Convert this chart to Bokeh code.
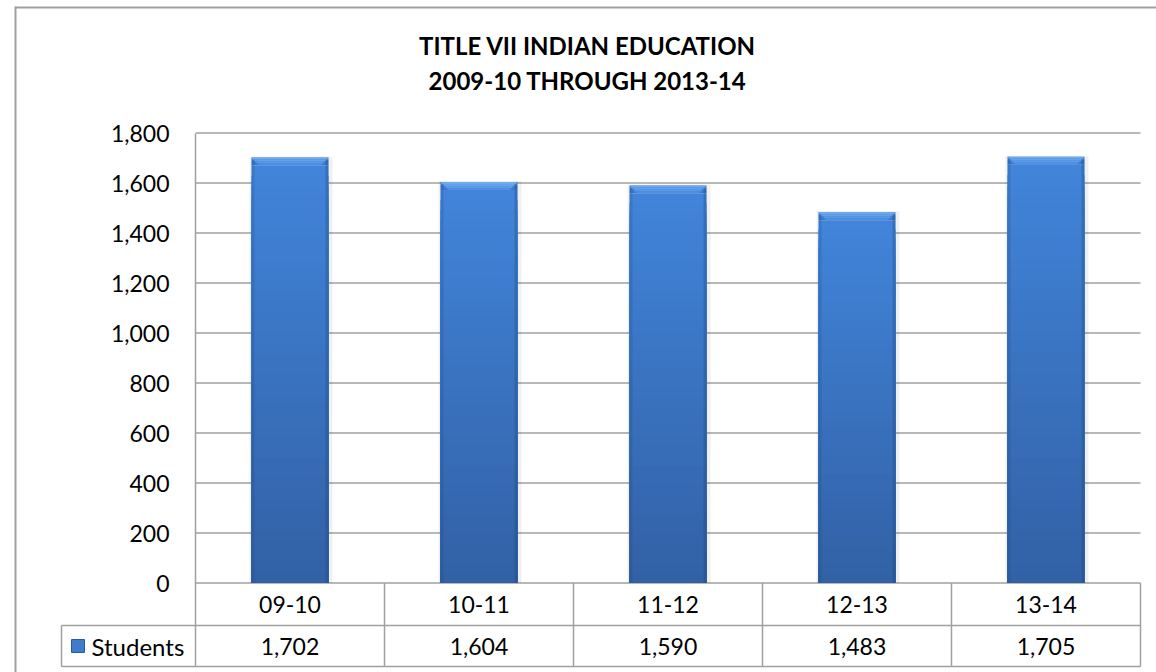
from bokeh.plotting import figure
from bokeh.models import Range1d, FixedTicker, NumeralTickFormatter, LinearAxis
from bokeh.core.properties import value
from bokeh.embed import file_html
from bokeh.resources import INLINE

# ---------------- data ----------------
categories = ["09-10", "10-11", "11-12", "12-13", "13-14"]
students = [1702, 1604, 1590, 1483, 1705]
series_name = "Students"
title_lines = ["TITLE VII INDIAN EDUCATION", "2009-10 THROUGH 2013-14"]
y_ticks = [0, 200, 400, 600, 800, 1000, 1200, 1400, 1600, 1800]

# ---------------- style / layout ----------------
FONT = "Lato"
GRID = "#a0a0a0"
W, H = 1156, 672
X0_PX, CAT_PX = 195.0, 189.0     # screen x of first category edge, pixels per category
Y0_PX, YPX = 582.5, 4.0          # screen y of value 0, value units per pixel
PX = 1.0 / CAT_PX


def dx(sx):      # screen x -> data x
    return (sx - X0_PX) / CAT_PX


def dy(sy):      # screen y -> data y
    return (Y0_PX - sy) * YPX


def lerp(c0, c1, f):
    return "#%02x%02x%02x" % tuple(int(round(a + (b - a) * f)) for a, b in zip(c0, c1))


n = len(categories)
xc = [i + 0.5 for i in range(n)]           # category centres
BAR_W = 77 * PX
LABEL_SIZE = "23px"

p = figure(width=W, height=H, x_range=Range1d(dx(0), dx(W)), y_range=Range1d(dy(H), dy(0)),
           output_backend="svg", toolbar_location=None, min_border=0,
           x_axis_location=None, y_axis_location=None)
p.outline_line_color = None
p.grid.visible = False
p.background_fill_color = "white"
p.border_fill_color = "white"

# outer chart border (left + top)
p.segment(x0=[dx(15), dx(15)], y0=[dy(6), dy(7)], x1=[dx(15), dx(W)], y1=[dy(H), dy(7)],
          line_color=GRID, line_width=2)

# title
for i, line in enumerate(title_lines):
    p.text(x=[dx(587)], y=[dy(45 + 35 * i)], text=[line], text_align="center",
           text_baseline="middle", text_font=value(FONT), text_font_style="bold",
           text_font_size=value("24px"), text_color="black")

# horizontal gridlines
p.segment(x0=[0] * len(y_ticks), y0=y_ticks, x1=[n] * len(y_ticks), y1=y_ticks,
          line_color=GRID, line_width=1.5)

# y axis
ax = LinearAxis(fixed_location=0, bounds=(y_ticks[0], y_ticks[-1]),
                ticker=FixedTicker(ticks=y_ticks), formatter=NumeralTickFormatter(format="0,0"))
ax.major_label_text_font = FONT
ax.major_label_text_font_size = LABEL_SIZE
ax.major_label_text_color = "black"
ax.axis_line_color = GRID
ax.axis_line_width = 1.5
ax.major_tick_line_color = None
ax.minor_tick_line_color = None
ax.major_tick_out = 0
ax.major_tick_in = 0
ax.major_label_standoff = 26
p.add_layout(ax, "left")

# soft shadow
p.vbar(x=[x + 1 * PX for x in xc], top=[v + YPX for v in students], bottom=0,
       width=BAR_W + 6 * PX, fill_color="black", fill_alpha=0.06, line_color=None)

# bar body: vertical gradient (overlapping bars drawn from tallest to shortest)
N = 40
bot_rgb, top_rgb = (50, 97, 166), (65, 132, 217)
for k in range(N, 0, -1):
    tops = [(v - 8 * YPX) * k / N for v in students]
    p.vbar(x=xc, bottom=0, top=tops, width=BAR_W,
           fill_color=lerp(bot_rgb, top_rgb, (k - 1) / (N - 1)), line_color=None)

# bevel top: darker rim then lighter trapezoid
p.vbar(x=xc, bottom=[v - 8 * YPX for v in students], top=students, width=BAR_W,
       fill_color="#3b79cb", line_color=None)
for j in range(4):
    p.vbar(x=xc, top=[v - 2 * j * YPX for v in students],
           bottom=[v - 2 * (j + 1) * YPX for v in students],
           width=BAR_W - 2 * (2 * j + 1) * PX,
           fill_color=lerp((110, 170, 240), (80, 144, 226), j / 3), line_color=None)

# side shading strips
for off, alpha in ((-(BAR_W / 2) + 1.5 * PX, 0.18), ((BAR_W / 2) - 1.5 * PX, 0.28)):
    p.vbar(x=[x + off for x in xc], top=[v - 3 * YPX for v in students], bottom=0,
           width=3 * PX, fill_color="#173f75", fill_alpha=alpha, line_color=None)

# ---------------- data table ----------------
ROW1_TOP, ROW_MID, ROW_BOT = dy(Y0_PX), dy(625), dy(666)
LEFT_CELL = dx(61)
bounds = list(range(n + 1))

p.segment(x0=[LEFT_CELL, LEFT_CELL], y0=[ROW_MID, ROW_BOT], x1=[n, n], y1=[ROW_MID, ROW_BOT],
          line_color=GRID, line_width=1.5)
p.segment(x0=bounds, y0=[ROW1_TOP] * (n + 1), x1=bounds, y1=[ROW_BOT] * (n + 1),
          line_color=GRID, line_width=1.5)
p.segment(x0=[LEFT_CELL], y0=[ROW_MID], x1=[LEFT_CELL], y1=[ROW_BOT],
          line_color=GRID, line_width=1.5)

ROW1_Y = dy(604)
ROW2_Y = dy(645.5)
p.text(x=xc, y=[ROW1_Y] * n, text=categories, text_align="center", text_baseline="middle",
       text_font=value(FONT), text_font_size=value(LABEL_SIZE), text_color="black")
p.text(x=xc, y=[ROW2_Y] * n, text=[f"{v:,}" for v in students],
       text_align="center", text_baseline="middle",
       text_font=value(FONT), text_font_size=value(LABEL_SIZE), text_color="black")

# legend key + series name
p.scatter(x=[dx(77.5)], y=[ROW2_Y], marker="square", size=13,
          fill_color="#3f7ccc", line_color="#2a5a9c", line_width=1)
p.text(x=[dx(91)], y=[ROW2_Y], text=[series_name], text_align="left", text_baseline="middle",
       text_font=value(FONT), text_font_size=value("24px"), text_color="black")

open("out.html", "w").write(file_html(p, INLINE))
